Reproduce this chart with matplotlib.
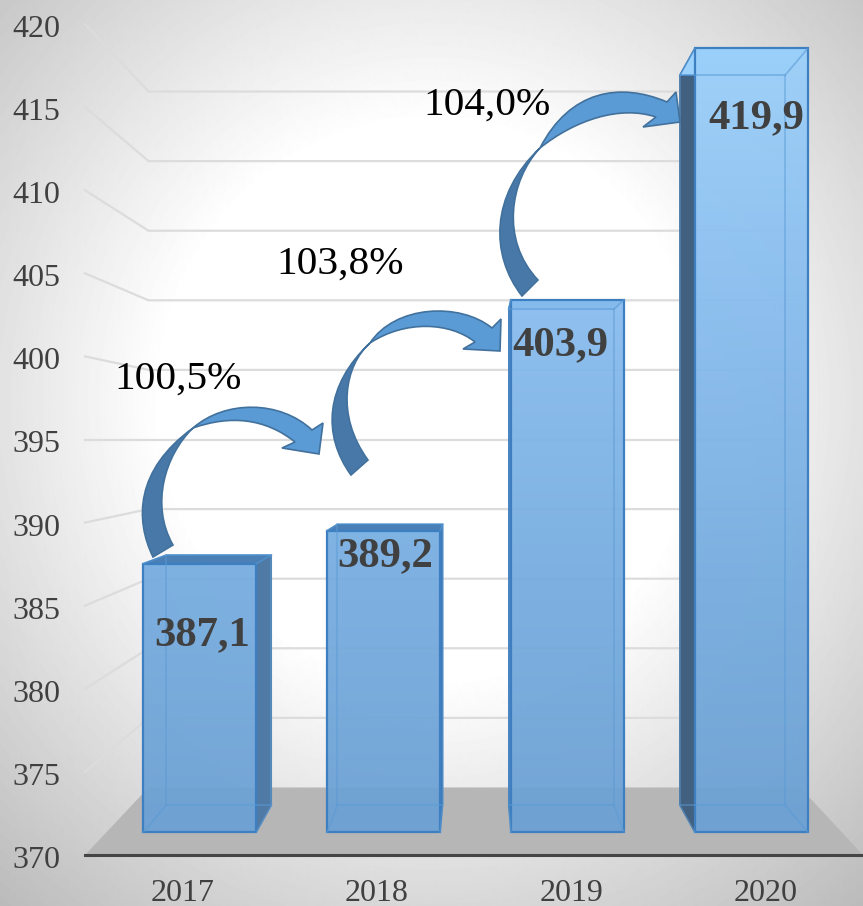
import numpy as np
import matplotlib
matplotlib.use('Agg')
import matplotlib.pyplot as plt
from matplotlib.colors import LinearSegmentedColormap
from matplotlib.patches import PathPatch, Polygon
from matplotlib.path import Path
from matplotlib.transforms import Affine2D, ScaledTranslation

plt.rcParams['font.family'] = ['Liberation Serif', 'DejaVu Serif']

years = ['2017', '2018', '2019', '2020']
values = [387.1, 389.2, 403.9, 419.9]
value_labels = ['387,1', '389,2', '403,9', '419,9']
growth_labels = ['100,5%', '103,8%', '104,0%']
y_ticks = [370, 375, 380, 385, 390, 395, 400, 405, 410, 415, 420]
BASE = 370

W, H = 863, 906
GREY_TEXT = '#404040'

# 3d look: everything goes through one perspective helper, s=1 is the axis plane
CX, VY = 1.51, 395.0
S_BACK, S_FRONT, S_REAR = 0.8375, 0.945, 0.88
BAR_W = 0.615
BAR_SHIFT = 0.008


def proj(x, v, s):
    return CX + (x - CX) * s, VY + (v - VY) * s


def corners(i, v, s):
    # left/right x and projected y of a bar section
    x0, y0 = proj(i + BAR_SHIFT - BAR_W / 2, v, s)
    x1, _ = proj(i + BAR_SHIFT + BAR_W / 2, v, s)
    return x0, x1, y0


# top-left pixel coordinates for the hand drawn callouts
px = Affine2D().scale(1, -1).translate(0, H)


def draw_background(fig):
    bg = fig.add_axes([0, 0, 1, 1], zorder=-1)
    yy, xx = np.mgrid[0:H, 0:W]
    d = np.sqrt(((xx - 430) / 600.0) ** 2 + ((yy - 400) / 620.0) ** 2)
    shade = 1 - 0.42 * np.clip(d - 0.45, 0, None)
    bg.imshow(shade, cmap='gray', vmin=0, vmax=1, aspect='auto')
    bg.axis('off')


def draw_arrow(ax, dark, light):
    for pts, color, in ((dark, '#4878a8'), (light, '#5b9bd5')):
        verts = [p for p, _ in pts]
        codes = [c for _, c in pts]
        ax.add_patch(PathPatch(Path(verts, codes), facecolor=color, edgecolor='#41719c',
                               lw=1.2, transform=px, zorder=8))


def curve(p1, p2, p3):
    return [(p1, Path.CURVE4), (p2, Path.CURVE4), (p3, Path.CURVE4)]


def line(*pts):
    return [(p, Path.LINETO) for p in pts]


fig = plt.figure(figsize=(W / 100, H / 100), dpi=100)
draw_background(fig)

ax = fig.add_axes([85 / W, (H - 855) / H, (W - 85) / W, (855 - 24) / H])
ax.patch.set_visible(False)

# walls
x_left, x_right = -0.5, 3.5
for v in y_ticks[1:]:
    xa, ya = proj(x_left, v, 1)
    xb, yb = proj(x_left, v, S_BACK)
    xc, _ = proj(x_right, v, S_BACK)
    ax.plot([xa, xb, xc], [ya, yb, yb], color='#dcdcdc', lw=1.6, zorder=1, clip_on=False)

# floor
floor = [proj(x_left, BASE, 1), proj(x_right, BASE, 1), proj(x_right, BASE, S_BACK), proj(x_left, BASE, S_BACK)]
ax.add_patch(Polygon(floor, closed=True, facecolor='#b6b6b6', edgecolor='none', zorder=2))

top_colors = ['#4a80b5', '#4a80b5', '#78aee2', '#9dd2fc']
side_colors = ['#4f7aa6', '#3f78b5', '#3a75b0', '#42607f']
bar_cmap = LinearSegmentedColormap.from_list('bar', ['#6a9fd3', '#75acdf', '#87bcee', '#9dd2fc'])

fronts_x = [proj(i + BAR_SHIFT, BASE, S_FRONT)[0] for i in range(4)]
front_bot = proj(0, BASE, S_FRONT)[1]
front_tops = [proj(0, v, S_FRONT)[1] for v in values]
bars = ax.bar(fronts_x, [t - front_bot for t in front_tops], bottom=front_bot, width=BAR_W * S_FRONT,
              facecolor='none', edgecolor='#3d7fc0', lw=1.6, zorder=6)

grad = np.linspace(0, 1, 256).reshape(-1, 1)
for i, (v, bar) in enumerate(zip(values, bars)):
    fx0, fx1, fy1 = corners(i, v, S_FRONT)
    _, _, fy0 = corners(i, BASE, S_FRONT)
    rx0, rx1, ry1 = corners(i, v, S_REAR)
    _, _, ry0 = corners(i, BASE, S_REAR)

    # side that faces the vanishing point
    if i < 2:
        side = [(fx1, fy0), (rx1, ry0), (rx1, ry1), (fx1, fy1)]
    else:
        side = [(fx0, fy0), (rx0, ry0), (rx0, ry1), (fx0, fy1)]
    ax.add_patch(Polygon(side, closed=True, facecolor=side_colors[i], edgecolor=side_colors[i],
                         lw=0.8, zorder=4))
    top = [(fx0, fy1), (fx1, fy1), (rx1, ry1), (rx0, ry1)]
    ax.add_patch(Polygon(top, closed=True, facecolor=top_colors[i], edgecolor='#3d7fc0',
                         lw=1.0, zorder=4))

    im = ax.imshow(grad, cmap=bar_cmap, origin='lower', aspect='auto', alpha=0.94, zorder=5,
                   extent=(-0.5, 3.5, BASE, 420))
    im.set_clip_path(bar)

    # rear edges showing through the front face
    ax.plot([rx0, rx1, rx1, rx0, rx0], [ry0, ry0, ry1, ry1, ry0], color='#5b9bd5', lw=1.2, alpha=0.55, zorder=6)
    for xa, ya, xb, yb in ((fx0, fy0, rx0, ry0), (fx1, fy0, rx1, ry0), (fx0, fy1, rx0, ry1), (fx1, fy1, rx1, ry1)):
        ax.plot([xa, xb], [ya, yb], color='#5b9bd5', lw=1.2, alpha=0.55, zorder=6)

# value labels
label_pos = [(202, 635), (385, 556), (560, 345), (756, 118)]
for txt, (x, y) in zip(value_labels, label_pos):
    ax.text(x, y, txt, transform=px, ha='center', va='center', fontsize=30.7, fontweight='bold',
            color=GREY_TEXT, zorder=9)

# growth labels
growth_pos = [(178, 379), (340, 264), (487, 105)]
for txt, (x, y) in zip(growth_labels, growth_pos):
    ax.text(x, y, txt, transform=px, ha='center', va='center', fontsize=29.7, color='black', zorder=9)

# curved arrows between the bars
M, Z = Path.MOVETO, Path.CLOSEPOLY
draw_arrow(ax,
           [((153, 557), M)] + curve((135, 520), (135, 470), (193, 428)) + curve((165, 455), (150, 505), (173, 545)) + [((153, 557), Z)],
           [((193, 428), M)] + curve((225, 400), (280, 400), (312, 430)) + line((323, 423), (319, 454), (282, 448), (295, 442))
           + curve((265, 418), (230, 415), (193, 428)) + [((193, 428), Z)])
draw_arrow(ax,
           [((351, 475), M)] + curve((322, 435), (325, 385), (370, 343)) + curve((345, 365), (335, 415), (368, 460)) + [((351, 475), Z)],
           [((370, 343), M)] + curve((395, 305), (460, 302), (492, 328)) + line((501, 319), (500, 351), (463, 349), (475, 342))
           + curve((450, 322), (405, 320), (370, 343)) + [((370, 343), Z)])
draw_arrow(ax,
           [((522, 296), M)] + curve((490, 255), (490, 195), (540, 148)) + curve((510, 180), (500, 240), (538, 280)) + [((522, 296), Z)],
           [((540, 148), M)] + curve((570, 90), (620, 82), (667, 102)) + line((676, 92), (680, 122), (643, 127), (656, 117))
           + curve((620, 105), (575, 120), (540, 148)) + [((540, 148), Z)])

ax.set_xlim(x_left, x_right)
ax.set_ylim(BASE, 420)
ax.set_xticks(range(4))
ax.set_xticklabels(years)
ax.set_yticks(y_ticks)
ax.tick_params(axis='both', length=0, labelsize=23, labelcolor=GREY_TEXT)
ax.tick_params(axis='y', pad=18)
ax.tick_params(axis='x', pad=17)
shift_down = ScaledTranslation(0, -2 / 100, fig.dpi_scale_trans)
for lbl in ax.get_yticklabels():
    lbl.set_transform(lbl.get_transform() + shift_down)
for name in ('top', 'left', 'right'):
    ax.spines[name].set_visible(False)
ax.spines['bottom'].set_color('#454545')
ax.spines['bottom'].set_linewidth(2.2)
ax.spines['bottom'].set_zorder(7)

fig.savefig('out.png', dpi=100)
